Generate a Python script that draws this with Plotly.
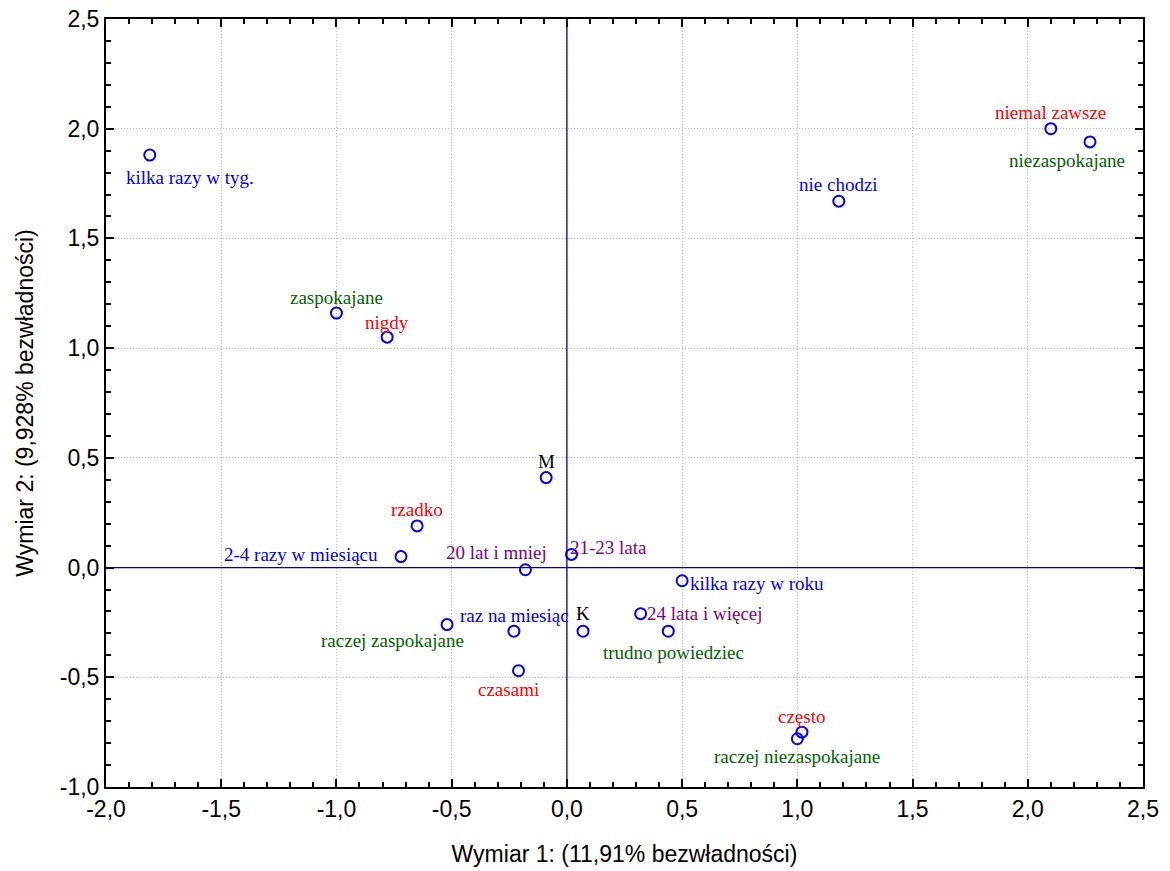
import plotly.graph_objects as go

labels = ["kilka razy w tyg.", "niemal zawsze", "niezaspokajane", "nie chodzi",
          "zaspokajane", "nigdy", "M", "rzadko", "2-4 razy w miesiącu",
          "20 lat i mniej", "21-23 lata", "kilka razy w roku", "24 lata i więcej",
          "trudno powiedziec", "K", "raz na miesiąc", "raczej zaspokajane",
          "czasami", "często", "raczej niezaspokajane"]
dim1 = [-1.81, 2.10, 2.27, 1.18, -1.00, -0.78, -0.09, -0.65, -0.72,
        -0.18, 0.02, 0.50, 0.32, 0.44, 0.07, -0.23, -0.52, -0.21, 1.02, 1.00]
dim2 = [1.88, 2.00, 1.94, 1.67, 1.16, 1.05, 0.41, 0.19, 0.05,
        -0.01, 0.06, -0.06, -0.21, -0.29, -0.29, -0.29, -0.26, -0.47, -0.75, -0.78]
groups = ["freq", "often", "needs", "freq", "needs", "often", "sex", "often", "freq",
          "age", "age", "freq", "age", "needs", "sex", "freq", "needs",
          "often", "often", "needs"]

x_tickvals = [-2.0, -1.5, -1.0, -0.5, 0.0, 0.5, 1.0, 1.5, 2.0, 2.5]
x_ticktext = ["-2,0", "-1,5", "-1,0", "-0,5", "0,0", "0,5", "1,0", "1,5", "2,0", "2,5"]
y_tickvals = [-1.0, -0.5, 0.0, 0.5, 1.0, 1.5, 2.0, 2.5]
y_ticktext = ["-1,0", "-0,5", "0,0", "0,5", "1,0", "1,5", "2,0", "2,5"]

x_title = "Wymiar 1: (11,91% bezwładności)"
y_title = "Wymiar 2: (9,928% bezwładności)"

group_colors = {"freq": "#0000FF", "often": "#FF0000", "needs": "#006400",
                "age": "#800080", "sex": "#000000"}
# label placement (xanchor, dx px, dy px downward)
placement = [("center", 40, 22), ("center", 0, -16), ("center", -23, 19), ("center", 0, -17),
             ("center", 0, -16), ("center", 0, -15), ("center", 0, -16), ("center", 0, -16),
             ("right", -21, -2), ("right", 24, -17), ("left", -4, -7), ("left", 6, 3),
             ("left", 4, 0), ("center", 5, 21), ("center", 0, -18), ("center", 1, -16),
             ("center", -55, 16), ("center", -10, 19), ("center", 0, -16), ("center", 0, 18)]

ZERO_COLOR = "#0000A0"

fig = go.Figure()
fig.add_trace(go.Scatter(
    x=dim1, y=dim2, mode="markers",
    marker=dict(symbol="circle-open", size=11, color="#0000FF", line=dict(width=2, color="#0000FF")),
    hovertext=labels, showlegend=False))

for lab, xv, yv, g, (anc, dx, dy) in zip(labels, dim1, dim2, groups, placement):
    fig.add_annotation(x=xv, y=yv, text=lab, showarrow=False, xanchor=anc, yanchor="middle",
                       xshift=dx, yshift=-dy,
                       font=dict(family="Liberation Serif", size=19, color=group_colors[g]))

# zero reference lines
fig.add_shape(type="line", xref="x", yref="paper", x0=0, x1=0, y0=0, y1=1,
              line=dict(color=ZERO_COLOR, width=1.3), layer="above")
fig.add_shape(type="line", xref="paper", yref="y", x0=0, x1=1, y0=0, y1=0,
              line=dict(color=ZERO_COLOR, width=1.3), layer="above")

axis_common = dict(
    showline=True, linecolor="black", linewidth=2, mirror="ticks",
    ticks="inside", ticklen=8, tickwidth=2, tickcolor="black",
    showgrid=True, gridcolor="#bdbdbd", griddash="1px,2px", gridwidth=1,
    zeroline=False, automargin=False, tickmode="array",
    tickfont=dict(family="Liberation Sans", size=23, color="black"),
    minor=dict(dtick=0.1, ticks="inside", ticklen=5, tickcolor="black", tickwidth=1.5, showgrid=False),
)

fig.update_xaxes(range=[-2.0, 2.5], tickvals=x_tickvals, ticktext=x_ticktext,
                 title=dict(text=x_title, font=dict(family="Liberation Sans", size=23, color="black"), standoff=25),
                 **axis_common)
fig.update_yaxes(range=[-1.0, 2.5], tickvals=y_tickvals, ticktext=y_ticktext,
                 ticksuffix="\u00a0",
                 title=dict(text=y_title, font=dict(family="Liberation Sans", size=23, color="black"), standoff=20),
                 **axis_common)
fig.update_xaxes(minor=dict(tick0=-2.0))
fig.update_yaxes(minor=dict(tick0=-1.0))

fig.update_layout(
    width=1170, height=871,
    margin=dict(l=106, r=27, t=19, b=84),
    plot_bgcolor="white", paper_bgcolor="white",
    showlegend=False,
)

fig.write_html("out.html", config={"displayModeBar": False},
               post_script="document.body.style.margin='0';document.body.style.overflow='hidden';")
